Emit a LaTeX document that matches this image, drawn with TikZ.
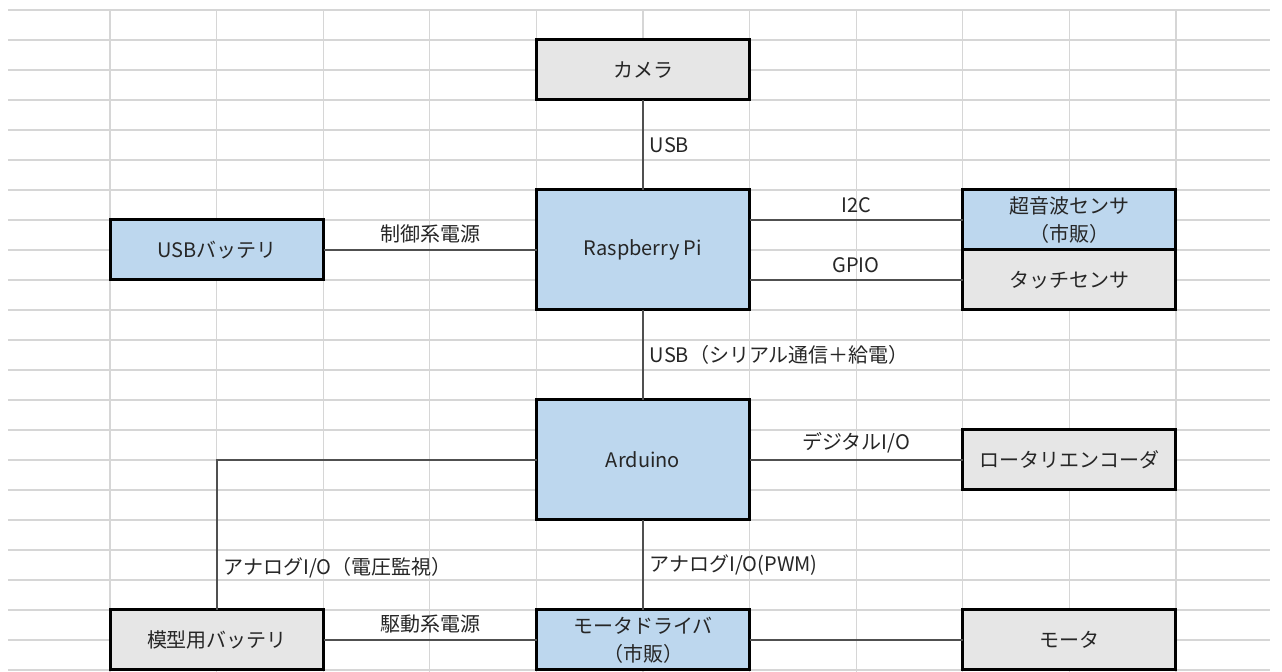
\documentclass[tikz,border=0pt]{standalone}
\usepackage{fontspec}
\setmainfont{Noto Sans CJK JP}
\usepackage{tikz}
\usepackage{xcolor}
\usetikzlibrary{positioning}

\definecolor{boxblue}{RGB}{189,215,238}
\definecolor{boxgray}{RGB}{230,230,230}
\definecolor{cellline}{RGB}{214,214,214}
\definecolor{wire}{RGB}{80,80,80}

\begin{document}
\begin{tikzpicture}[x=0.5pt, y=-0.5pt, node distance=106.5pt,
  every node/.style={font=\fontsize{10}{14}\selectfont, text=black!85},
  unit/.style={rectangle, draw=black, line width=1.5pt, minimum width=106.5pt, minimum height=30pt, inner sep=0pt, outer sep=0pt, align=center},
  tall/.style={minimum height=60pt},
  lbl/.style={inner sep=3pt}]
\useasboundingbox (0,0) rectangle (1282,672);

% spreadsheet cells
\foreach \k in {0,...,22}
  \draw[cellline, line width=0.6pt] (8,{10+30*\k}) -- (1270,{10+30*\k});
\foreach \j in {0,...,10}
  \draw[cellline, line width=0.6pt] ({110+106.6*\j},10) -- ({110+106.6*\j},672);

\node[unit, tall, fill=boxblue] (rpi) at (643,250) {Raspberry Pi};
\node[unit, fill=boxgray, above=45pt of rpi] (camera) {カメラ};
\node[unit, fill=boxblue, left=of rpi] (usbbat) {USBバッテリ};
\node[unit, fill=boxblue, right=of rpi.north east, anchor=north west] (sonar) {超音波センサ\\（市販）};
\node[unit, fill=boxgray, below=0pt of sonar] (touch) {タッチセンサ};
\node[unit, tall, fill=boxblue, below=45pt of rpi] (arduino) {Arduino};
\node[unit, fill=boxgray, right=of arduino] (encoder) {ロータリエンコーダ};
\node[unit, fill=boxblue, below=45pt of arduino] (driver) {モータドライバ\\（市販）};
\node[unit, fill=boxgray, right=of driver] (motor) {モータ};
\node[unit, fill=boxgray, left=of driver] (modelbat) {模型用バッテリ};

% wiring
\path[draw=wire, line width=0.8pt]
(camera) -- node[lbl, right] {USB} (rpi)
(usbbat) -- node[lbl, above] {制御系電源} (rpi)
(rpi.east |- sonar) -- node[lbl, above] {I2C} (sonar)
(rpi.east |- touch) -- node[lbl, above] {GPIO} (touch)
(rpi) -- node[lbl, right] {USB（シリアル通信＋給電）} (arduino)
(arduino) -- node[lbl, above] {デジタルI/O} (encoder)
(arduino) -| node[lbl, pos=0.86, right] {アナログI/O（電圧監視）} (modelbat)
(arduino) -- node[lbl, right] {アナログI/O(PWM)} (driver)
(modelbat) -- node[lbl, above] {駆動系電源} (driver)
(driver) -- (motor);
\end{tikzpicture}
\end{document}
